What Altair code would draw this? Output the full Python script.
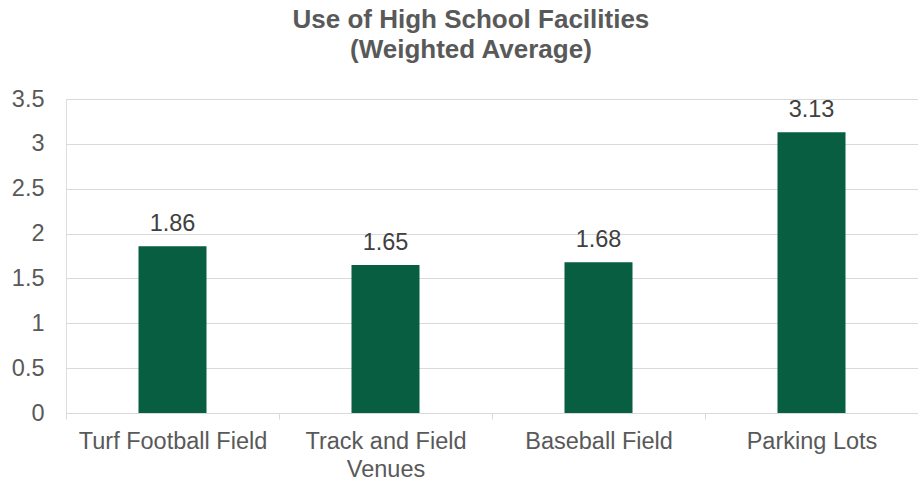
import altair as alt
import pandas as pd

# Facility categories and their weighted-average usage scores
facilities = ["Turf Football Field", "Track and Field Venues", "Baseball Field", "Parking Lots"]
scores = [1.86, 1.65, 1.68, 3.13]

df = pd.DataFrame({"facility": facilities, "score": scores})

FONT = "Liberation Sans"
GREEN = "#075E41"
GRID = "#D9D9D9"

x_enc = alt.X(
    "facility:N",
    sort=facilities,
    scale=alt.Scale(paddingInner=0, paddingOuter=0),
    axis=alt.Axis(
        title=None,
        labelAngle=0,
        labelFont=FONT,
        labelFontSize=23.5,
        labelColor="#595959",
        labelPadding=10,
        labelLineHeight=28,
        labelLimit=400,
        labelExpr="datum.value == 'Track and Field Venues' ? ['Track and Field', 'Venues'] : datum.value",
        domainColor=GRID,
        tickColor=GRID,
        tickSize=6,
        tickBand="extent",
        grid=False,
    ),
)

y_enc = alt.Y(
    "score:Q",
    scale=alt.Scale(domain=[0, 3.5], nice=False),
    axis=alt.Axis(
        title=None,
        values=[0, 0.5, 1, 1.5, 2, 2.5, 3, 3.5],
        format="~g",
        labelFont=FONT,
        labelFontSize=23.5,
        labelColor="#595959",
        labelPadding=22,
        domain=False,
        ticks=False,
        gridColor=GRID,
        gridWidth=1,
    ),
)

bars = alt.Chart(df).mark_bar(color=GREEN, size=68).encode(x=x_enc, y=y_enc)

labels = alt.Chart(df).mark_text(
    baseline="bottom", dy=-10, font=FONT, fontSize=23.5, color="#404040"
).encode(
    x=alt.X("facility:N", sort=facilities),
    y="score:Q",
    text=alt.Text("score:Q", format=".2f"),
)

chart = (
    alt.layer(bars, labels)
    .properties(
        width=852,
        height=314,
        title=alt.TitleParams(
            ["Use of High School Facilities", "(Weighted Average)"],
            font=FONT,
            fontSize=26,
            fontWeight="bold",
            color="#595959",
            lineHeight=30,
            anchor="middle",
            frame="bounds",
            offset=24,
            dx=6,
        ),
        autosize=alt.AutoSizeParams(type="none"),
        padding={"left": 66, "top": 99, "right": 0, "bottom": 69},
    )
    .configure_view(stroke=None)
    .configure(background="white")
)

chart.save("out.html", embed_options={"renderer": "svg", "actions": False})
